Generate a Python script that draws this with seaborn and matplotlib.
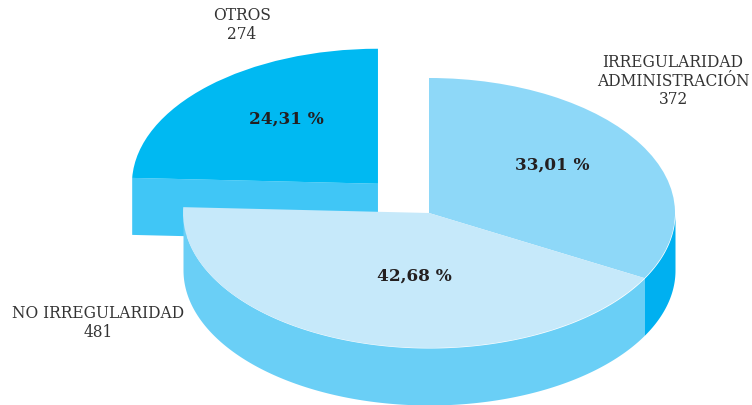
import numpy as np
import seaborn as sns
import matplotlib.pyplot as plt

# datos del grafico
categorias = ["IRREGULARIDAD\nADMINISTRACIÓN\n372", "NO IRREGULARIDAD\n481", "OTROS\n274"]
casos = [372, 481, 274]
porcentajes = [33.01, 42.68, 24.31]
etiquetas_pct = ["33,01 %", "42,68 %", "24,31 %"]
separacion = [0, 0, 0.3]

colores_tapa = sns.color_palette(["#8ED8F8", "#C6E9FA", "#00B9F2"])
colores_lado = sns.color_palette(["#00B0F0", "#6ACFF6", "#40C6F6"])

# geometria en pixeles de la imagen
W, H = 752, 405
CX, CY = 429, 213
RX, RY = 246, 135
PROF = 57 / RY


def angulo_pt(t):
    t = np.radians(t)
    return np.sin(t), np.cos(t)


def main():
    sns.set_theme(style="white")
    plt.rcParams["font.family"] = ["DejaVu Serif"]

    fig = plt.figure(figsize=(W / 100, H / 100), dpi=100)
    ax = fig.add_axes([0, 0, 1, 1])

    # 1 unidad = RX px en x, RY px en y
    fracs = np.array(porcentajes) / sum(porcentajes)
    bordes = np.concatenate([[0], np.cumsum(fracs) * 360])

    wedges, _ = ax.pie(porcentajes, explode=separacion, colors=colores_tapa,
                       startangle=90, counterclock=False,
                       wedgeprops={"linewidth": 0})
    ax.set_aspect("auto")
    ax.set_xlim(-CX / RX, (W - CX) / RX)
    ax.set_ylim((CY - H) / RY, CY / RY)
    ax.axis("off")

    wedges[2].set_zorder(2)
    wedges[0].set_zorder(5)
    wedges[1].set_zorder(5)

    # cara de corte de OTROS
    t2 = bordes[2]
    medio = (bordes[2] + bordes[3]) / 2
    dx, dy = angulo_pt(medio)
    ox, oy = dx * separacion[2], dy * separacion[2]
    px, py = angulo_pt(t2)
    ax.fill([ox, ox + px, ox + px, ox], [oy, oy + py, oy + py - PROF, oy - PROF],
            color=colores_lado[2], lw=0, zorder=1)

    # pared exterior de IRREGULARIDAD (de la derecha hasta el corte)
    t = np.linspace(90, bordes[1], 60)
    x, y = angulo_pt(t)
    ax.fill_between(x, y, y - PROF, color=colores_lado[0], lw=0, zorder=4)

    # pared exterior de NO IRREGULARIDAD (hasta el extremo izquierdo)
    t = np.linspace(bordes[1], 270, 200)
    x, y = angulo_pt(t)
    ax.fill_between(x, y, y - PROF, color=colores_lado[1], lw=0, zorder=4)

    # porcentajes
    pos_pct = [(552, 165), (414, 276), (286, 119)]
    for (xp, yp), txt in zip(pos_pct, etiquetas_pct):
        ax.text((xp - CX) / RX, (CY - yp) / RY, txt, ha="center", va="center",
                fontsize=12.2, fontweight="bold", color="#231F20", zorder=6)

    # nombres
    pos_cat = [(673, 81), (98, 323), (242, 25)]
    for (xp, yp), txt in zip(pos_cat, categorias):
        ax.text((xp - CX) / RX, (CY - yp) / RY, txt, ha="center", va="center",
                fontsize=11.2, color="#333333", linespacing=1.15, zorder=6)

    fig.savefig("out.png", dpi=100)


if __name__ == "__main__":
    main()
